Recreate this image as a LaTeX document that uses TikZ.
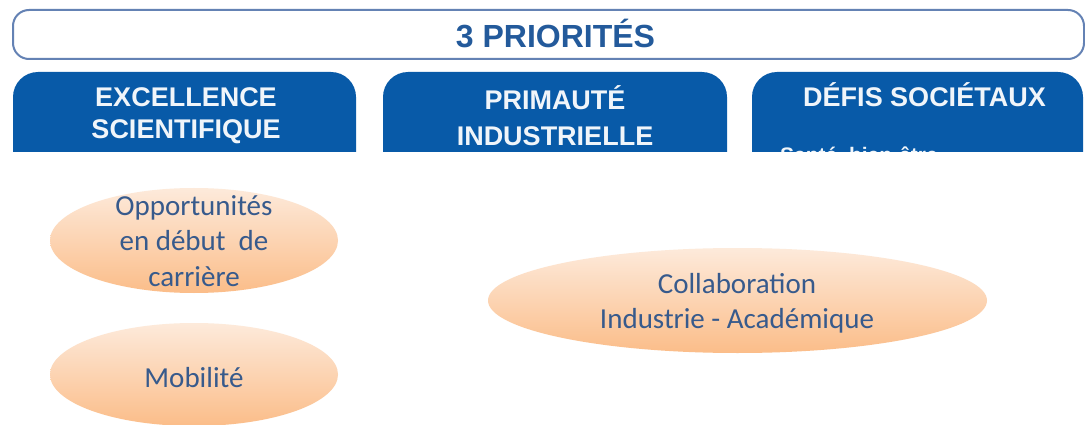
\documentclass[tikz,border=0pt]{standalone}
\usepackage{fontspec}
\usetikzlibrary{shapes.geometric}
\newfontfamily\calib{Carlito}
\newfontfamily\arialf{Liberation Sans}
\definecolor{bannerline}{RGB}{100,130,180}
\definecolor{titleblue}{RGB}{35,90,155}
\definecolor{tabblue}{RGB}{8,90,168}
\definecolor{tabtext}{RGB}{240,245,250}
\definecolor{ovaltext}{RGB}{55,90,140}
\definecolor{ovaltop}{RGB}{253,234,219}
\definecolor{ovalbottom}{RGB}{251,189,137}
\newcommand{\topstrut}{\rule{0pt}{25pt}}
\tikzset{
  tabshape/.style={fill=tabblue, draw=none, rounded corners=25pt},
  tablabel/.style={text=tabtext, font=\arialf\bfseries\fontsize{27}{32}\selectfont, anchor=base, inner sep=0pt},
  oval/.style={ellipse, draw=none, top color=ovaltop, bottom color=ovalbottom, inner sep=0pt},
  ovallabel/.style={text=ovaltext, font=\calib\fontsize{29}{35.5}\selectfont, align=center, inner sep=0pt, anchor=north},
}
\begin{document}
\begin{tikzpicture}[x=1pt,y=-1pt]
\useasboundingbox (0,0) rectangle (1085,425);
\fill[white] (0,0) rectangle (1085,425);
\begin{scope}
  \clip (0,0) rectangle (1085,152);
  \draw[bannerline, line width=2pt, fill=white, rounded corners=16pt] (13,10) rectangle (1084,59);
  \node[text=titleblue, font=\arialf\bfseries\fontsize{32}{38}\selectfont, anchor=base, inner sep=0pt] (title) at (555.5,48) {3 PRIORITÉS};
  \path[tabshape] (13,72) rectangle (356,220);
  \path[tabshape] (383,72) rectangle (727,220);
  \path[tabshape] (752,72) rectangle (1083,220);
  \node[tablabel] (t1a) at (186,107) {EXCELLENCE};
  \node[tablabel] (t1b) at (186,139) {SCIENTIFIQUE};
  \node[tablabel] (t2a) at (555,110) {PRIMAUTÉ};
  \node[tablabel] (t2b) at (555,146) {INDUSTRIELLE};
  \node[tablabel] (t3a) at (924.5,107) {DÉFIS SOCIÉTAUX};
  \node[text=tabtext, font=\arialf\bfseries\fontsize{21}{25}\selectfont, anchor=base west, inner sep=0pt] (t3b) at (780,162.5) {Santé, bien-être};
\end{scope}
\node[oval, minimum width=288pt, minimum height=105pt] (opp) at (194,240.5) {};
\node[oval, minimum width=288pt, minimum height=103pt] (mob) at (194,374.5) {};
\node[oval, minimum width=499pt, minimum height=105pt] (collab) at (737.5,300.5) {};
\node[ovallabel] (opptext) at (194,190) {\topstrut Opportunités\\en début\ \ de\\carrière};
\node[ovallabel] (mobtext) at (194,362) {\topstrut Mobilité};
\node[ovallabel, font=\calib\fontsize{29}{35}\selectfont] (collabtext) at (737,268) {\topstrut Collaboration\\Industrie - Académique};
\end{tikzpicture}
\end{document}
